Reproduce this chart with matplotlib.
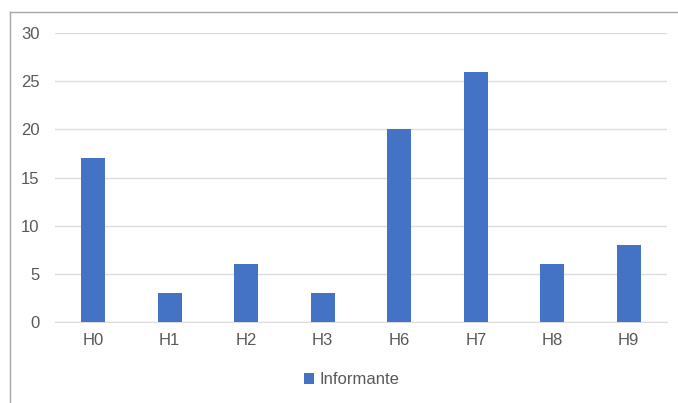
import matplotlib
matplotlib.use("Agg")
import matplotlib.pyplot as plt
from matplotlib.lines import Line2D
import numpy as np

plt.rcParams["font.family"] = ["Liberation Sans", "DejaVu Sans"]

categories = ["H0", "H1", "H2", "H3", "H6", "H7", "H8", "H9"]
informante = [17, 3, 6, 3, 20, 26, 6, 8]
yticks = [0, 5, 10, 15, 20, 25, 30]

BAR_COLOR = "#4472C4"
TEXT_COLOR = "#595959"
GRID_COLOR = "#DCDCDC"

fig = plt.figure(figsize=(6.78, 4.03), dpi=100)
ax = fig.add_axes([0.0811, 0.201, 0.9027, 0.717])

x = np.arange(len(categories))
ax.bar(x, informante, width=0.31, color=BAR_COLOR, zorder=3, label="Informante")

ax.set_xlim(-0.5, len(categories) - 0.5)
ax.set_ylim(0, 30)
ax.set_yticks(yticks)
ax.set_xticks(x)
ax.set_xticklabels(categories)
ax.grid(axis="y", color=GRID_COLOR, linewidth=1, zorder=0)
for s in ["top", "right", "left"]:
    ax.spines[s].set_visible(False)
ax.spines["bottom"].set_color(GRID_COLOR)
ax.tick_params(axis="both", length=0, labelsize=12, colors=TEXT_COLOR)
ax.tick_params(axis="y", pad=11)
ax.tick_params(axis="x", pad=8)

ax.legend(loc="center", bbox_to_anchor=(0.485, -0.2), frameon=False,
          fontsize=12, labelcolor=TEXT_COLOR, handlelength=0.6, handleheight=0.6,
          handletextpad=0.3)

# chart border (left and top edges visible)
fig.add_artist(Line2D([10 / 678, 10 / 678], [0, 1 - 12 / 403], color="#A6A6A6", linewidth=1))
fig.add_artist(Line2D([10 / 678, 1], [1 - 12 / 403, 1 - 12 / 403], color="#A6A6A6", linewidth=1))

fig.savefig("out.png", dpi=100)
